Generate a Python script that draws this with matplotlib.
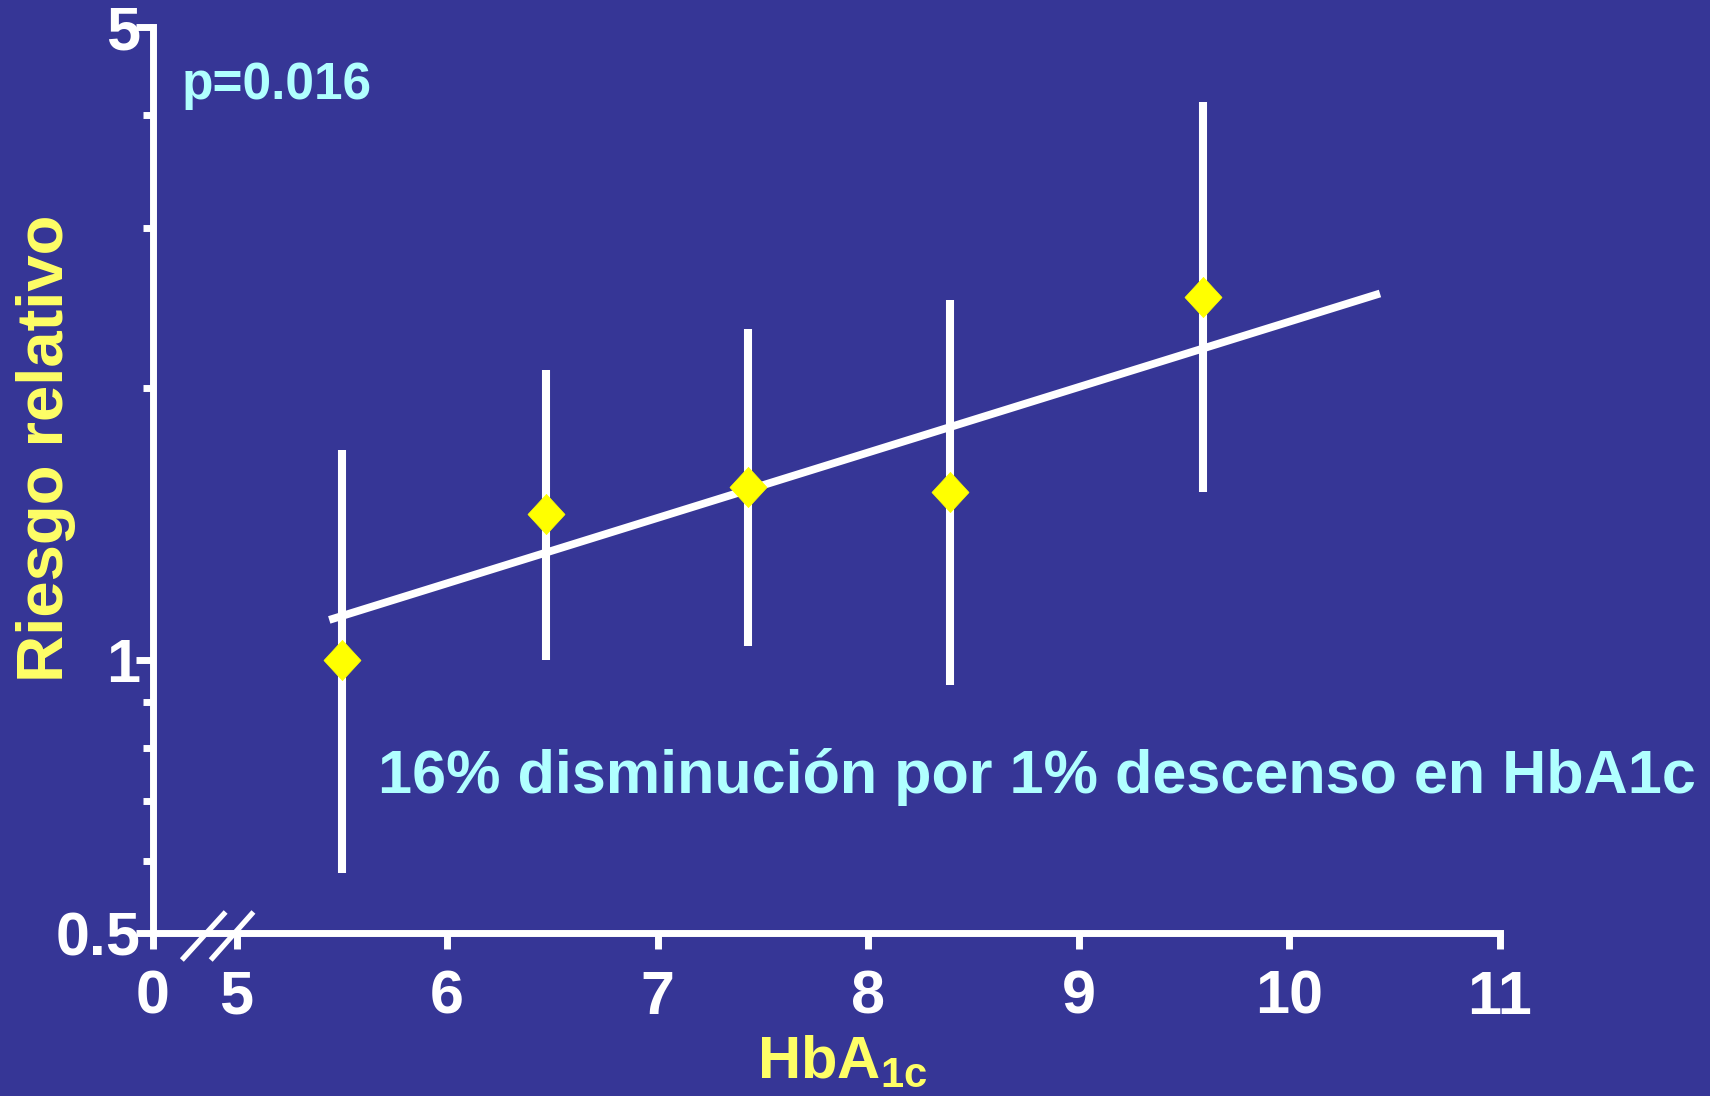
import matplotlib
matplotlib.use("Agg")
import matplotlib.pyplot as plt
import matplotlib.transforms as mtransforms
from matplotlib.ticker import FixedLocator, NullFormatter

plt.rcParams['font.family'] = ['Liberation Sans', 'DejaVu Sans']
plt.rcParams['font.weight'] = 'bold'
plt.rcParams['mathtext.fontset'] = 'custom'
plt.rcParams['mathtext.bf'] = 'Liberation Sans:bold'
plt.rcParams['mathtext.rm'] = 'Liberation Sans:bold'

# ---- data ----
hba1c = [5.50, 6.47, 7.43, 8.39, 9.59]
rr = [1.00, 1.45, 1.555, 1.534, 2.52]
ci_low = [0.582, 1.00, 1.037, 0.939, 1.534]
ci_high = [1.706, 2.09, 2.32, 2.50, 4.13]
fit_x = [5.44, 10.43]
fit_y = [1.108, 2.54]

x_ticks = [5, 6, 7, 8, 9, 10, 11]
x_tick_labels = ['5', '6', '7', '8', '9', '10', '11']
zero_label = '0'
y_major = [0.5, 1, 5]
y_major_labels = ['0.5', '1', '5']
y_minor = [0.6, 0.7, 0.8, 0.9, 2, 3, 4]

p_text = 'p=0.016'
note_text = '16% disminución por 1% descenso en HbA1c'
y_label = 'Riesgo relativo'
x_label = r'$\mathbf{HbA}_{\mathbf{1c}}$'

BG = '#363696'
WHITE = '#FFFFFF'
YELLOW = '#FFFF00'
LABEL_YEL = '#FFFF66'
CYAN = '#B0FFFF'

x_zero_pos = 4.603   # position of the "0" at the axis break
x_max = 11

fig = plt.figure(figsize=(17.10, 10.96), dpi=100, facecolor=BG)
ax = fig.add_axes([153/1710, 163/1096, (1500-153)/1710, (1069-163)/1096])
ax.set_facecolor(BG)
ax.set_yscale('log')
ax.set_xlim(x_zero_pos, x_max)
ax.set_ylim(y_major[0], y_major[-1])

# error bars
ax.vlines(hba1c, ci_low, ci_high, colors=WHITE, linewidth=5.8, capstyle='butt', zorder=3)
# regression line
ax.plot(fit_x, fit_y, color=WHITE, linewidth=5.6, solid_capstyle='butt', zorder=4)
# points
diamond = [(0, 1), (0.92, 0), (0, -1), (-0.92, 0), (0, 1)]
ax.plot(hba1c, rr, linestyle='none', marker=diamond, markersize=29,
        markerfacecolor=YELLOW, markeredgecolor=YELLOW, markeredgewidth=0.5, zorder=5)

# spines
for s in ['top', 'right']:
    ax.spines[s].set_visible(False)
for s in ['left', 'bottom']:
    ax.spines[s].set_color(WHITE)
    ax.spines[s].set_linewidth(5)
    ax.spines[s].set_capstyle('projecting')

# ticks
ax.xaxis.set_major_locator(FixedLocator([x_zero_pos] + x_ticks))
ax.set_xticklabels([zero_label] + x_tick_labels)
ax.yaxis.set_major_locator(FixedLocator(y_major))
ax.set_yticklabels(y_major_labels)
ax.yaxis.set_minor_locator(FixedLocator(y_minor))
ax.yaxis.set_minor_formatter(NullFormatter())
ax.xaxis.set_minor_locator(FixedLocator([]))
ax.tick_params(axis='x', which='major', direction='out', length=11.5, width=5,
               color=WHITE, labelcolor=WHITE, labelsize=44, pad=15)
ax.tick_params(axis='y', which='major', direction='out', length=12, width=5,
               color=WHITE, labelcolor=WHITE, labelsize=44, pad=-3)
ax.tick_params(axis='y', which='minor', direction='out', length=7, width=5, color=WHITE)
for lab in ax.get_xticklabels() + ax.get_yticklabels():
    lab.set_fontweight('bold')

# axis break marks
bt = mtransforms.blended_transform_factory(ax.transData, ax.transAxes)
for x_lo, x_hi in [(4.740, 4.948), (4.877, 5.080)]:
    ax.plot([x_lo, x_hi], [-0.0298, 0.0232], color=WHITE, linewidth=3.8,
            transform=bt, clip_on=False, solid_capstyle='butt', zorder=6)

# annotations
ax.text(0.0215, 0.9205, p_text, transform=ax.transAxes, color=CYAN,
        fontsize=37, fontweight='bold', ha='left', va='baseline')
ax.text(0.167, 0.1545, note_text, transform=ax.transAxes, color=CYAN,
        fontsize=44, fontweight='bold', ha='left', va='baseline')

fig.text(0.027, 0.5912, y_label, rotation=90, color=LABEL_YEL, fontsize=47,
         fontweight='bold', ha='center', va='center')
fig.text(0.4925, 0.0164, x_label, color=LABEL_YEL, fontsize=43,
         ha='center', va='baseline')

fig.savefig('out.png', dpi=100, facecolor=BG)
